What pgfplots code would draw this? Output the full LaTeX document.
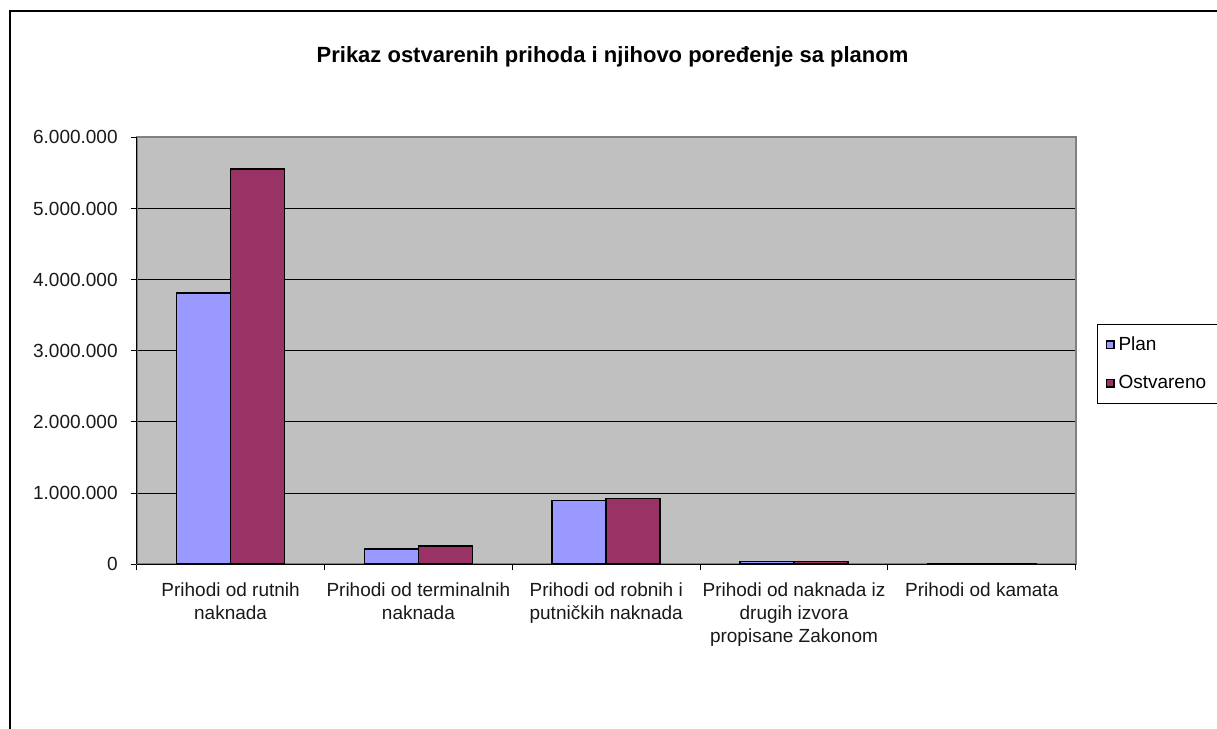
\documentclass[border=0pt]{standalone}
\usepackage{pgfplots}
\pgfplotsset{compat=1.18}
\usepackage{fontspec}
\setmainfont{Liberation Sans}
\definecolor{plan}{HTML}{9999FF}
\definecolor{ostv}{HTML}{993366}
\definecolor{pa}{HTML}{C0C0C0}
\definecolor{bd}{HTML}{808080}
\begin{document}
\begin{tikzpicture}
\useasboundingbox (0,0) rectangle (608.5pt,364.5pt);
\clip (0,0) rectangle (608.5pt,364.5pt);
\draw[line width=0.65pt] (5pt,-20pt) rectangle (640pt,359pt);
\node[font=\fontsize{11}{13}\selectfont\bfseries] at (306.25pt,336pt) {Prikaz ostvarenih prihoda i njihovo poređenje sa planom};
\begin{axis}[
  at={(68.35pt,82.35pt)}, anchor=south west,
  scale only axis, width=469.5pt, height=213.5pt,
  clip=false,
  ybar=0pt, bar width=27pt,
  xmin=-0.5, xmax=4.5, ymin=0, ymax=6000000,
  axis background/.style={fill=pa},
  axis line style={bd, line width=0.9pt},
  scaled y ticks=false,
  ytick={0,1000000,2000000,3000000,4000000,5000000,6000000},
  yticklabels={0,1.000.000,2.000.000,3.000.000,4.000.000,5.000.000,6.000.000},
  ymajorgrids, major grid style={black, line width=0.5pt},
  xtick={-0.5,0.5,1.5,2.5,3.5,4.5},
  xticklabels={},
  extra x ticks={0,1,2,3,4},
  extra x tick labels={{Prihodi od rutnih\\naknada},{Prihodi od terminalnih\\naknada},{Prihodi od robnih i\\putničkih naknada},{Prihodi od naknada iz\\drugih izvora\\propisane Zakonom},{Prihodi od kamata}},
  extra x tick style={major tick length=0pt, grid=none},
  tick style={black, line width=0.5pt},
  tick align=outside, major tick length=3pt,
  ytick pos=left, xtick pos=bottom,
  tick label style={font=\fontsize{9.5}{11.5}\selectfont, text=black!90},
  xticklabel style={align=center, yshift=-5.5pt},
  yticklabel style={xshift=-3pt},
  legend style={at={(1.0227,0.5628)}, anchor=north west, draw=black, line width=0.5pt,
    font=\fontsize{9.5}{11.5}\selectfont, row sep=7pt, inner xsep=4pt, inner ysep=4pt},
  legend cell align=left,
  legend image code/.code={\draw[#1, line width=0.7pt] (0pt,-1.9pt) rectangle (3.8pt,1.9pt);},
]
\addplot[fill=plan, draw=black, line width=0.8pt] coordinates {(0,3816000) (1,211000) (2,894000) (3,40000) (4,5000)};
\addplot[fill=ostv, draw=black, line width=0.8pt] coordinates {(0,5554000) (1,257000) (2,922000) (3,38000) (4,5000)};
\legend{\makebox[50pt][l]{Plan}, \makebox[50pt][l]{Ostvareno}}
\draw[black, line width=0.6pt] (rel axis cs:0,0) -- (rel axis cs:0,1);
\draw[black, line width=0.6pt] (rel axis cs:0,0) -- (rel axis cs:1,0);
\end{axis}
\end{tikzpicture}
\end{document}
